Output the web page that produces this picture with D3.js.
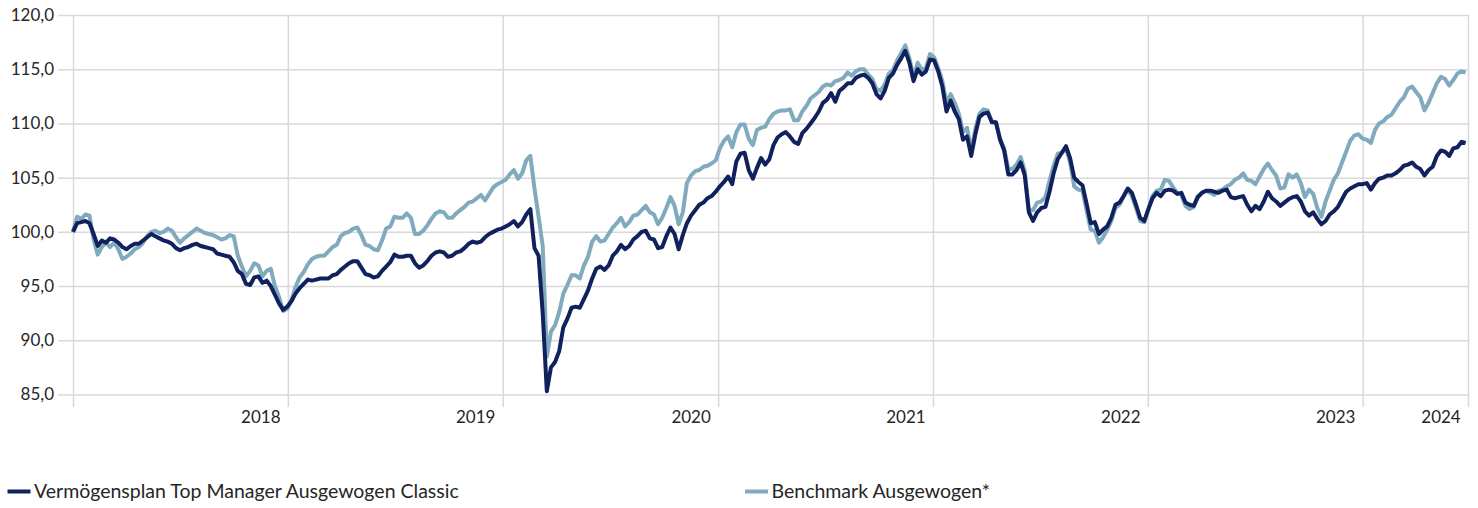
<!DOCTYPE html>
<html><head><meta charset="utf-8">
<script src="https://cdn.jsdelivr.net/npm/d3@7"></script>
<style>
body{margin:0;background:#fff}
svg{display:block}
text{font-family:Lato,"Open Sans",sans-serif;fill:#262626}
</style>
</head><body>
<svg id="chart" width="1478" height="508"></svg>
<script>
// weekly observations starting at startDate
const startDate = "2018-01-01";
const stepDays = 7;
const fund = [
100.0,100.8,100.9,101.0,100.8,99.8,98.7,99.2,99.0,99.4,
99.3,99.0,98.6,98.4,98.7,98.9,98.9,99.2,99.5,99.8,
99.6,99.4,99.2,99.1,98.9,98.5,98.3,98.5,98.6,98.8,
98.9,98.7,98.6,98.5,98.4,98.0,97.9,97.8,97.7,97.2,
96.4,96.1,95.2,95.1,95.8,95.9,95.3,95.5,95.0,94.2,
93.4,92.8,93.1,93.6,94.3,94.8,95.2,95.6,95.5,95.6,
95.7,95.7,95.7,96.0,96.1,96.5,96.8,97.1,97.3,97.3,
96.7,96.1,96.0,95.8,95.9,96.4,96.8,97.2,97.9,97.7,
97.7,97.8,97.8,97.1,96.7,96.9,97.3,97.8,98.1,98.2,
98.1,97.7,97.8,98.1,98.2,98.5,98.9,99.1,99.0,99.1,
99.5,99.8,100.0,100.2,100.3,100.5,100.7,101.0,100.5,100.9,
101.6,102.1,98.5,97.8,92.5,85.3,87.5,88.0,89.0,91.2,
92.0,93.0,93.1,93.0,93.8,94.6,95.7,96.6,96.8,96.5,
96.9,97.8,98.2,98.8,98.4,98.7,99.3,99.6,100.0,100.1,
99.4,99.3,98.5,98.6,99.6,100.4,99.8,98.4,99.7,100.8,
101.5,102.0,102.5,102.7,103.1,103.3,103.7,104.2,104.6,105.1,
104.4,106.5,107.2,107.3,105.7,104.9,105.9,106.8,106.2,106.7,
108.0,108.7,109.0,109.2,108.8,108.3,108.1,109.1,109.5,110.0,
110.5,111.1,111.9,112.2,112.8,112.0,113.0,113.3,113.7,113.7,
114.2,114.4,114.5,114.2,113.7,112.7,112.3,113.0,114.2,114.6,
115.4,116.0,116.7,115.6,113.9,115.0,114.5,114.8,115.9,115.8,
114.8,113.4,111.1,112.1,111.1,110.4,108.5,108.8,107.0,109.0,
110.6,110.9,111.0,110.1,110.1,108.5,107.5,105.3,105.3,105.7,
106.4,105.2,101.8,101.0,101.8,102.2,102.3,103.7,105.4,106.7,
107.3,107.9,106.8,105.0,104.6,104.3,102.6,100.8,100.9,99.8,
100.2,100.5,101.3,102.5,102.7,103.3,104.0,103.6,102.5,101.3,
101.0,102.1,103.1,103.6,103.3,103.8,103.9,103.8,103.5,103.6,
102.7,102.5,102.4,103.2,103.6,103.8,103.8,103.7,103.6,103.8,
103.9,103.2,103.1,103.2,103.3,102.5,101.9,102.4,102.1,102.8,
103.7,103.1,102.8,102.4,102.7,103.0,103.2,103.3,102.8,101.9,
101.5,101.8,101.2,100.7,101.0,101.6,101.9,102.3,103.0,103.7,
104.0,104.2,104.4,104.4,104.5,103.9,104.5,104.9,105.0,105.2,
105.2,105.4,105.7,106.1,106.2,106.4,106.0,105.8,105.2,105.7,
106.0,107.0,107.5,107.4,107.0,107.7,107.8,108.3,108.2
];
const benchmark = [
100.0,101.4,101.2,101.6,101.5,99.3,97.9,98.6,99.0,98.6,
99.0,98.4,97.5,97.7,98.0,98.4,98.6,99.0,99.6,100.0,
100.1,99.9,100.0,100.3,100.1,99.5,99.0,99.4,99.7,100.0,
100.3,100.1,99.9,99.8,99.7,99.5,99.3,99.4,99.7,99.6,
97.8,96.8,95.9,96.4,97.1,96.9,95.9,96.4,96.6,95.0,
94.0,92.7,92.9,93.7,94.9,95.8,96.3,97.0,97.5,97.7,
97.8,97.8,98.2,98.6,98.8,99.6,99.9,100.0,100.3,100.4,
99.7,98.8,98.7,98.4,98.3,99.2,100.3,100.5,101.4,101.3,
101.3,101.7,101.3,99.8,99.8,100.1,100.6,101.2,101.7,101.9,
101.8,101.3,101.3,101.7,102.0,102.3,102.7,102.8,103.1,103.4,
102.9,103.5,104.1,104.4,104.6,104.8,105.3,105.7,104.9,105.4,
106.6,107.0,104.0,101.4,98.7,88.5,90.8,91.4,92.6,94.3,
95.1,96.0,96.0,95.7,96.9,97.7,99.1,99.6,99.1,99.2,
99.8,100.4,100.8,101.3,100.5,100.9,101.5,101.6,102.0,102.4,
101.8,101.6,100.7,101.3,102.2,103.2,102.4,100.7,101.8,104.5,
105.2,105.6,105.7,106.0,106.1,106.3,106.6,107.7,108.4,108.8,
107.8,109.2,109.9,109.9,108.6,108.0,109.4,109.6,109.7,110.4,
110.9,111.1,111.2,111.2,111.3,110.3,110.3,111.1,111.6,112.3,
112.6,112.9,113.4,113.6,113.5,113.9,114.0,114.2,114.7,114.4,
114.8,115.0,115.0,114.5,114.1,113.2,113.0,113.6,114.6,114.9,
115.8,116.5,117.2,116.0,114.3,115.6,115.0,115.1,116.4,116.1,
115.1,113.9,111.9,112.7,111.9,110.9,109.2,109.6,107.5,109.5,
110.9,111.3,111.2,110.2,110.1,108.6,107.7,105.8,105.8,106.2,
106.9,105.6,102.0,102.0,102.7,102.8,103.2,104.7,106.1,107.2,
107.3,107.7,106.4,104.2,103.9,103.8,102.0,100.2,100.1,99.0,
99.5,100.2,101.0,102.2,102.5,103.3,103.9,103.3,102.2,101.0,
100.9,102.1,103.3,103.8,103.9,104.8,104.7,104.1,103.6,103.4,
102.4,102.1,102.3,103.3,103.6,103.8,103.6,103.4,103.8,103.9,
104.2,104.4,104.8,105.0,105.4,104.8,104.7,104.4,105.1,105.8,
106.3,105.7,105.2,104.0,104.1,105.3,105.0,105.3,104.5,103.2,
103.9,103.5,102.2,101.4,102.8,103.8,104.8,105.4,106.4,107.4,
108.4,108.9,109.0,108.6,108.5,108.2,109.4,110.0,110.2,110.6,
110.8,111.4,112.0,112.4,113.2,113.4,112.9,112.4,111.2,111.9,
112.8,113.7,114.3,114.1,113.5,114.0,114.6,114.8,114.7
];
const seriesNames = ["Vermögensplan Top Manager Ausgewogen Classic", "Benchmark Ausgewogen*"];
const seriesColors = ["#10215e", "#80aabd"];
const yTicks = [85, 90, 95, 100, 105, 110, 115, 120];
const gridDates = ["2018-01-01","2019-01-01","2020-01-01","2021-01-01","2022-01-01","2023-01-01","2024-01-01","2024-06-28"];
const yearLabels = ["2018","2019","2020","2021","2022","2023","2024"];

const parse = d3.utcParse("%Y-%m-%d");
const t0 = parse(startDate);
const dates = fund.map((_, i) => d3.utcDay.offset(t0, i * stepDays));
const de = d3.formatLocale({decimal: ",", thousands: ".", grouping: [3], currency: ["", " €"]});
const fmt = de.format(".1f");

const L = 73, R = 1468, T = 15, B = 394.5;
const x = d3.scaleUtc().domain([parse(gridDates[0]), parse(gridDates[gridDates.length - 1])]).range([L, R]);
const y = d3.scaleLinear().domain([85, 120]).range([B, T]);

const svg = d3.select("#chart");
const gridColor = "#d9d9d9";

// horizontal grid + y labels
const yAxis = svg.append("g")
  .attr("transform", `translate(${R},0)`)
  .call(d3.axisLeft(y).tickValues(yTicks).tickSize(R - 58).tickPadding(4).tickFormat(fmt));
yAxis.select(".domain").remove();
yAxis.selectAll("line").attr("stroke", gridColor).attr("stroke-width", 1.5);
yAxis.selectAll("text").attr("font-size", 17).attr("fill", "#262626")
  .style("font-family", 'Lato,"Open Sans",sans-serif');

// vertical grid lines (extend below as ticks)
const xGrid = svg.append("g")
  .attr("transform", `translate(0,${T})`)
  .call(d3.axisBottom(x).tickValues(gridDates.map(parse)).tickSize(407 - T).tickFormat(""));
xGrid.select(".domain").remove();
xGrid.selectAll("line").attr("stroke", gridColor).attr("stroke-width", 1.5);

// year labels, placed just before each year-end grid line
svg.append("g").selectAll("text")
  .data(yearLabels)
  .join("text")
  .attr("x", (d, i) => x(parse(gridDates[i + 1])) - 27)
  .attr("y", 423)
  .attr("text-anchor", "middle")
  .attr("font-size", 17)
  .text(d => d);

// lines
const line = d3.line().x((d, i) => x(dates[i])).y(d => y(d));
const seriesData = [fund, benchmark];
[1, 0].forEach(k => {
  svg.append("path")
    .datum(seriesData[k])
    .attr("fill", "none")
    .attr("stroke", seriesColors[k])
    .attr("stroke-width", 4)
    .attr("stroke-linejoin", "round")
    .attr("d", line);
});

// legend
const legendX = [7.5, 745];
const lg = svg.append("g").selectAll("g").data(seriesNames).join("g")
  .attr("transform", (d, i) => `translate(${legendX[i]},491.5)`);
lg.append("line").attr("x1", 0).attr("x2", 23).attr("y1", 0).attr("y2", 0)
  .attr("stroke", (d, i) => seriesColors[i]).attr("stroke-width", 4);
lg.append("text").attr("x", 26.5).attr("y", 6.5).attr("font-size", 19.5).text(d => d);
</script>
</body></html>
